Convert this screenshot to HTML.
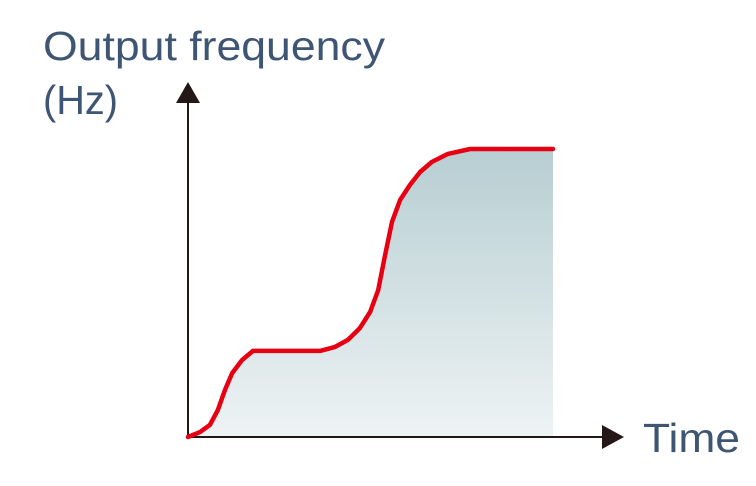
<!DOCTYPE html>
<html>
<head>
<meta charset="utf-8">
<style>
  html,body{margin:0;padding:0;background:#fff;}
  body{width:756px;height:486px;overflow:hidden;}
  svg{display:block;}
  text{font-family:"Liberation Sans",sans-serif;fill:#3e5574;}
</style>
</head>
<body>
<svg id="chart" width="756" height="486" viewBox="0 0 756 486">
  <defs>
    <linearGradient id="fillGrad" x1="0" y1="0" x2="0" y2="1">
      <stop offset="0" stop-color="#b7ced2"/>
      <stop offset="1" stop-color="#eef3f4"/>
    </linearGradient>
  </defs>
  <path id="area" fill="url(#fillGrad)"/>
  <line x1="188" y1="437" x2="188" y2="100" stroke="#231815" stroke-width="2"/>
  <polygon points="188,82 176,103 200,103" fill="#231815"/>
  <line x1="188" y1="437" x2="605" y2="437" stroke="#231815" stroke-width="2"/>
  <polygon points="624,437 602,425 602,449" fill="#231815"/>
  <path id="curve" fill="none" stroke="#e60012" stroke-width="4.5" stroke-linejoin="round" stroke-linecap="round"/>
  <text x="43" y="60" font-size="41" textLength="342" lengthAdjust="spacingAndGlyphs">Output frequency</text>
  <text x="43" y="114" font-size="41" textLength="75" lengthAdjust="spacingAndGlyphs">(Hz)</text>
  <text x="643" y="452" font-size="41" textLength="97" lengthAdjust="spacingAndGlyphs">Time</text>
</svg>
<script>
const timeValues = [0,3.3,6.0,8.2,10.1,12.1,14.8,17.8,36.2,40.3,43.8,47.1,49.9,52.1,54.0,55.9,58.1,60.8,63.6,66.8,71.2,77.3,100];
const freqValues = [0,1.7,4.2,9.4,16.3,22.2,26.7,29.9,29.9,31.3,33.7,37.8,43.4,51.0,63.2,74.7,82.3,87.5,92.0,95.5,98.3,100,100];

function xScale(t){ return 188 + t * 3.65; }
function yScale(f){ return 437 - f * 2.88; }

const pts = timeValues.map((t,i)=>[xScale(t), yScale(freqValues[i])]);
const d = pts.map((p,i)=>(i?'L':'M')+p[0].toFixed(1)+','+p[1].toFixed(1)).join(' ');
document.getElementById('curve').setAttribute('d', d);
const last = pts[pts.length-1];
document.getElementById('area').setAttribute('d', d + ' L' + last[0].toFixed(1) + ',' + yScale(0) + ' L' + pts[0][0].toFixed(1) + ',' + yScale(0) + ' Z');
</script>
</body>
</html>
